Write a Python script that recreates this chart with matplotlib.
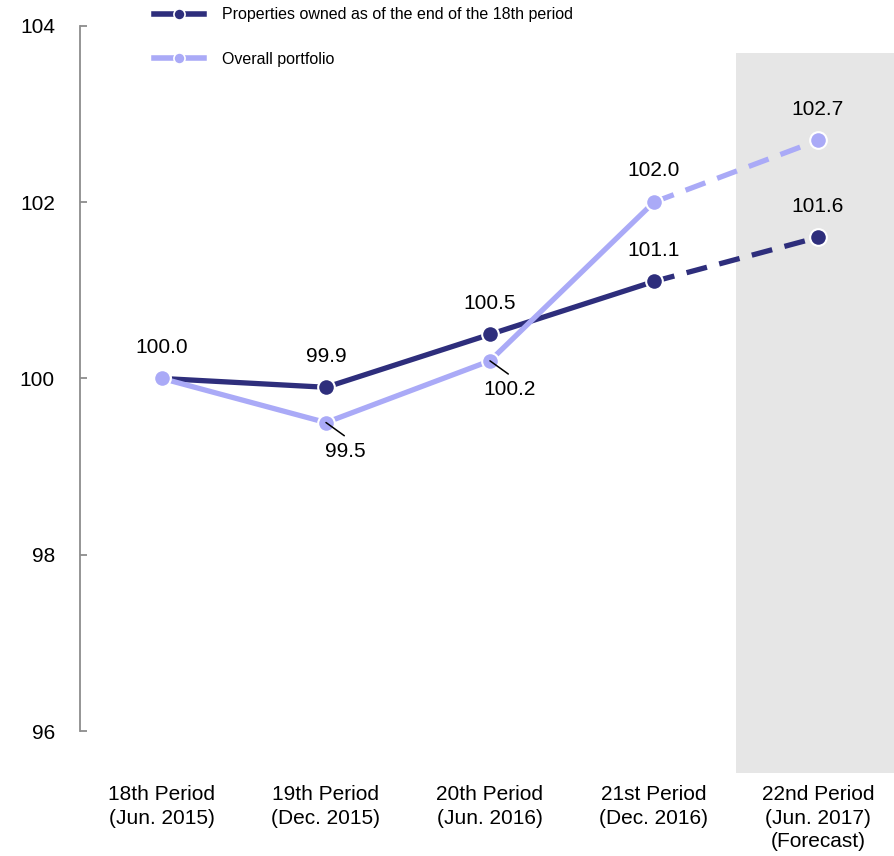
import matplotlib
matplotlib.use("Agg")
import matplotlib.pyplot as plt
from matplotlib.patches import Rectangle
from matplotlib.lines import Line2D

plt.rcParams['font.family'] = ['Liberation Sans', 'DejaVu Sans']

periods = ["18th Period\n(Jun. 2015)", "19th Period\n(Dec. 2015)",
           "20th Period\n(Jun. 2016)", "21st Period\n(Dec. 2016)",
           "22nd Period\n(Jun. 2017)\n(Forecast)"]
same_store = [100.0, 99.9, 100.5, 101.1, 101.6]
portfolio = [100.0, 99.5, 100.2, 102.0, 102.7]
y_ticks = [96, 98, 100, 102, 104]
series_names = ["Properties owned as of the end of the 18th period",
                "Overall portfolio"]

dark = "#2e2e7c"
light = "#aaaaf7"

fig = plt.figure(figsize=(8.95, 8.56), dpi=100)
ax = fig.add_axes([80 / 895, 72 / 856, 815 / 895, 767 / 856])
ax.set_xlim(-0.5, 4.47)
ax.set_ylim(95.4, 104.1)

# forecast band
ax.add_patch(Rectangle((3.5, 95.52), 1.2, 103.69 - 95.52,
                       facecolor="#e6e6e6", edgecolor="none", zorder=0))

x = list(range(len(periods)))
lw = 3.8
ms = 12

def draw_series(vals, color, z):
    ax.plot(x[:4], vals[:4], color=color, lw=lw, solid_capstyle="butt", zorder=z)
    ax.plot(x[3:], vals[3:], color=color, lw=lw, dashes=(4, 2.4),
            dash_capstyle="butt", zorder=z)
    ax.plot(x, vals, linestyle="none", marker="o", markersize=ms,
            markerfacecolor=color, markeredgecolor="white",
            markeredgewidth=1.5, zorder=z + 0.5)

draw_series(same_store, dark, 3)
draw_series(portfolio, light, 4)

fs = 15
# labels above the markers
for i, v in enumerate(same_store):
    ax.annotate(f"{v:.1f}", (i, v), xytext=(0, 22.5), textcoords="offset points",
                ha="center", va="center", fontsize=fs, zorder=6)
for i in (3, 4):
    v = portfolio[i]
    ax.annotate(f"{v:.1f}", (i, v), xytext=(0, 22.5), textcoords="offset points",
                ha="center", va="center", fontsize=fs, zorder=6)
# labels below with leader lines
for i in (1, 2):
    v = portfolio[i]
    ax.annotate("", (i, v), xytext=(13.2, -9.5), textcoords="offset points",
                arrowprops=dict(arrowstyle="-", color="black", lw=1.1,
                                shrinkA=0, shrinkB=0), zorder=6)
    ax.annotate(f"{v:.1f}", (i, v), xytext=(14, -21), textcoords="offset points",
                ha="center", va="center", fontsize=fs, zorder=6)

# axes styling
for side in ("top", "right", "bottom"):
    ax.spines[side].set_visible(False)
ax.spines["left"].set_color("#8c8c8c")
ax.spines["left"].set_linewidth(1.3)
ax.spines["left"].set_bounds(96, 104)
ax.set_yticks(y_ticks)
ax.set_yticklabels([str(t) for t in y_ticks])
ax.tick_params(axis="y", direction="in", length=5, width=1.3,
               color="#8c8c8c", pad=18, labelsize=fs)
ax.set_xticks(x)
ax.set_xticklabels(periods, linespacing=1.3)
ax.tick_params(axis="x", length=0, pad=1, labelsize=fs)

handles = [Line2D([0], [0], color=c, lw=4, marker="o", markersize=8,
                  markerfacecolor=c, markeredgecolor="white", markeredgewidth=1.2)
           for c in (dark, light)]
fig.legend(handles, series_names, loc="upper left",
           bbox_to_anchor=(148 / 895, 1 - 1 / 856), frameon=False,
           fontsize=11.5, handlelength=3.1, handletextpad=1.15,
           labelspacing=1.85, borderaxespad=0)

fig.savefig("out.png", dpi=100)
